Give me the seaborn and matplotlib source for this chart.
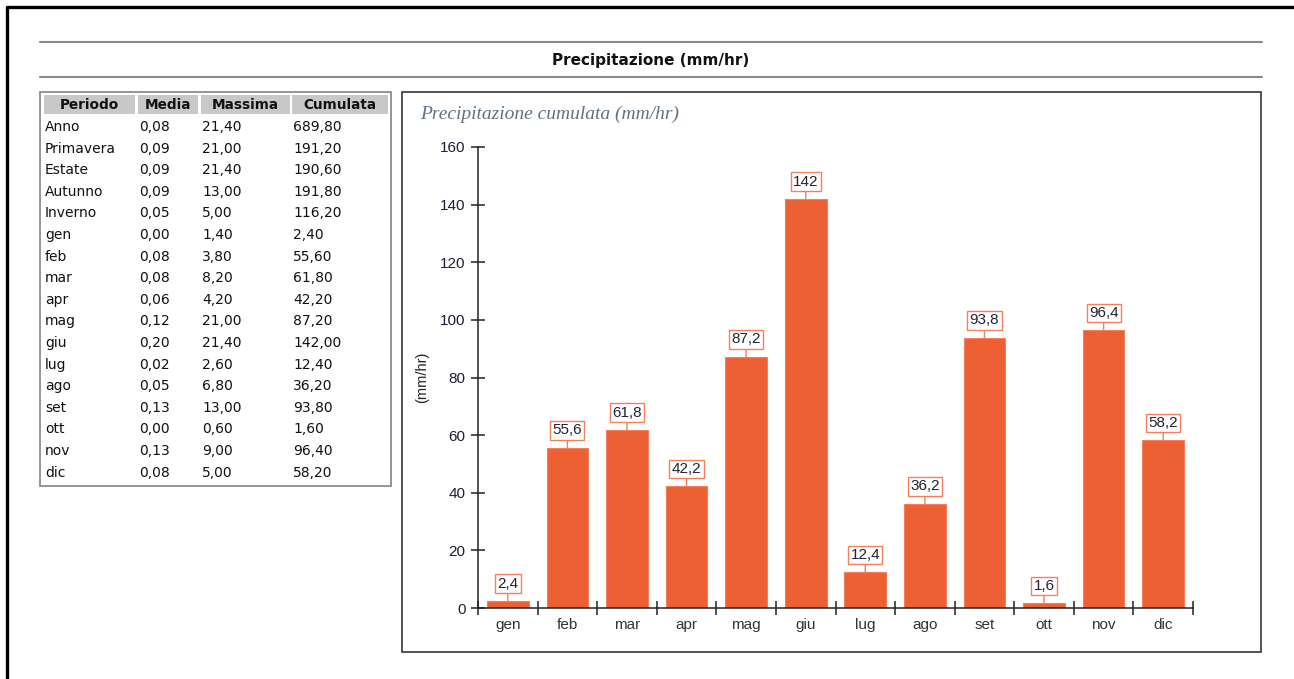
import matplotlib
matplotlib.use("Agg")
import matplotlib.pyplot as plt
from matplotlib.patches import Rectangle
from matplotlib.lines import Line2D
import seaborn as sns

# table data
periods = ["Anno", "Primavera", "Estate", "Autunno", "Inverno",
           "gen", "feb", "mar", "apr", "mag", "giu", "lug", "ago", "set", "ott", "nov", "dic"]
media = [0.08, 0.09, 0.09, 0.09, 0.05, 0.00, 0.08, 0.08, 0.06, 0.12, 0.20, 0.02, 0.05, 0.13, 0.00, 0.13, 0.08]
massima = [21.40, 21.00, 21.40, 13.00, 5.00, 1.40, 3.80, 8.20, 4.20, 21.00, 21.40, 2.60, 6.80, 13.00, 0.60, 9.00, 5.00]
cumulata = [689.80, 191.20, 190.60, 191.80, 116.20, 2.40, 55.60, 61.80, 42.20, 87.20, 142.00, 12.40, 36.20, 93.80, 1.60, 96.40, 58.20]
headers = ["Periodo", "Media", "Massima", "Cumulata"]

# chart data (monthly cumulata)
months = periods[5:]
values = cumulata[5:]

W, H = 1294, 679
BAR = "#ec6033"
BAR_EDGE = "#f3805c"

sns.set_style("white")
plt.rcParams["font.family"] = ["DejaVu Sans"]

fig = plt.figure(figsize=(W / 100, H / 100), dpi=100)


def fx(x):
    return x / W


def fy(y):
    return 1 - y / H


def hline(x0, x1, y, color, lw):
    fig.add_artist(Line2D([fx(x0), fx(x1)], [fy(y), fy(y)], color=color, lw=lw,
                          transform=fig.transFigure))


def box(x0, y0, x1, y1, ec, lw, fc="none"):
    fig.add_artist(Rectangle((fx(x0), fy(y1)), fx(x1) - fx(x0), fy(y0) - fy(y1),
                             transform=fig.transFigure, ec=ec, fc=fc, lw=lw))


def comma(v, fmt="{:.2f}"):
    return fmt.format(v).replace(".", ",")


# page frame (top and left only)
fig.add_artist(Line2D([fx(7), fx(7), fx(W)], [0, fy(7), fy(7)], color="black", lw=2.4,
                      transform=fig.transFigure))

# section header
hline(40, 1262, 42, "#8a8a8a", 1.5)
hline(40, 1262, 77, "#8a8a8a", 1.5)
fig.text(fx(651), fy(60), "Precipitazione (mm/hr)", ha="center", va="center",
         fontsize=11, fontweight="bold", color="#111111")

# table
box(40, 92, 391, 486, "#8c8c8c", 1.3)
col_x = [44, 138, 201, 292]
col_r = [135, 198, 290, 388]
for i, h in enumerate(headers):
    box(col_x[i], 95, col_r[i], 114, "none", 0, fc="#c8c8c8")
    fig.text(fx((col_x[i] + col_r[i]) / 2), fy(105), h, ha="center", va="center",
             fontsize=9.8, fontweight="bold", color="#111111")
for r, p in enumerate(periods):
    y = 127 + r * 21.6
    row = [p, comma(media[r]), comma(massima[r]), comma(cumulata[r])]
    for i, t in enumerate(row):
        fig.text(fx(col_x[i] + 1), fy(y), t, ha="left", va="center",
                 fontsize=10, color="#111111")

# chart panel
box(402, 92, 1261, 652, "#444444", 1.3)
fig.text(fx(420), fy(114), "Precipitazione cumulata (mm/hr)", ha="left", va="center",
         fontsize=14, style="italic", family="Liberation Serif", color="#5f7283")

ax = fig.add_axes([fx(478), fy(608), fx(1193) - fx(478), fy(147) - fy(608)])
sns.barplot(x=months, y=values, color=BAR, width=0.7, saturation=1,
            edgecolor=BAR_EDGE, linewidth=0.8, ax=ax)
ax.set_xlim(-0.5, len(months) - 0.5)
ax.set_ylim(0, 160)
ax.set_yticks(range(0, 161, 20))
for s in ["top", "right"]:
    ax.spines[s].set_visible(False)
for s in ["left", "bottom"]:
    ax.spines[s].set_color("#222222")
    ax.spines[s].set_linewidth(1.1)

ax.tick_params(axis="y", left=True, direction="inout", length=10, width=1.1, color="#222222",
               labelsize=11, labelcolor="#1d1d3a", pad=4)
ax.tick_params(axis="x", which="major", bottom=True, length=0, labelsize=11,
               labelcolor="#333333", pad=7)
ax.set_xticks([i - 0.5 for i in range(len(months) + 1)], minor=True)
ax.tick_params(axis="x", which="minor", bottom=True, direction="inout", length=10,
               width=1.1, color="#222222")
for lab in ax.get_xticklabels() + ax.get_yticklabels():
    lab.set_family("Liberation Sans")
ax.set_ylabel("(mm/hr)", fontsize=10.5, family="Liberation Sans", color="#222222")
ax.yaxis.set_label_coords(-0.068, 0.5)
ax.set_xlabel("")

for i, v in enumerate(values):
    ax.annotate(f"{v:g}".replace(".", ","), xy=(i, v), xytext=(0, 12.5),
                textcoords="offset points", ha="center", va="center",
                fontsize=11, family="Liberation Sans", color="#222233",
                bbox=dict(boxstyle="square,pad=0.15", fc="white", ec=BAR_EDGE, lw=1),
                arrowprops=dict(arrowstyle="-", color=BAR_EDGE, lw=1,
                                shrinkA=0, shrinkB=0))

fig.savefig("out.png", dpi=100)
